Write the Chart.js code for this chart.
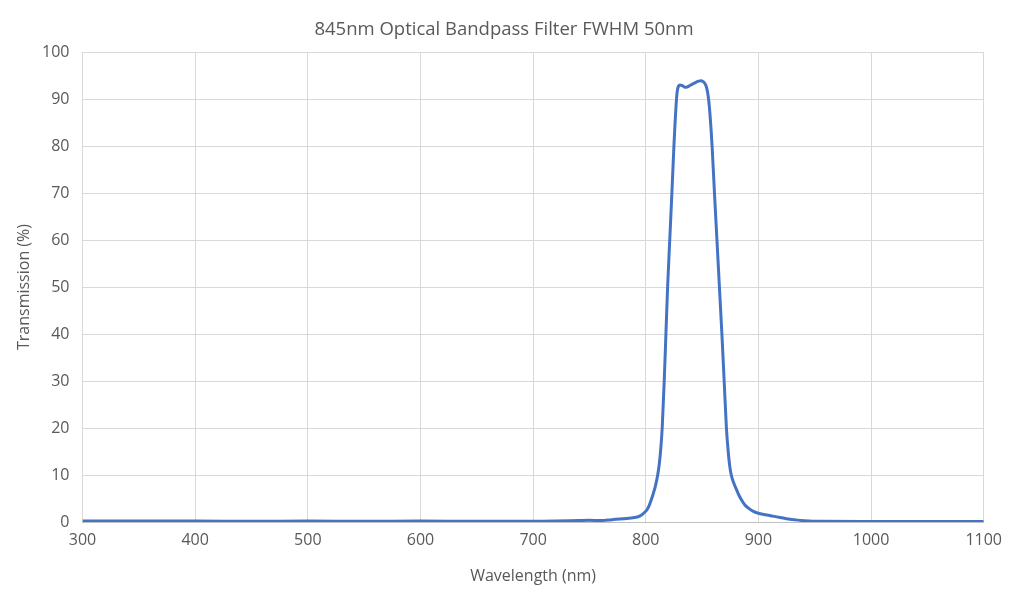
<!DOCTYPE html>
<html>
<head>
<meta charset="utf-8">
<title>845nm Optical Bandpass Filter</title>
<script src="https://cdn.jsdelivr.net/npm/chart.js@4"></script>
<style>
  html, body { margin: 0; padding: 0; background: #fff; }
  #wrap { width: 1011px; height: 590px; }
</style>
</head>
<body>
<div id="wrap"><canvas id="filterChart"></canvas></div>
<script>
const wavelengths = [300, 350, 400, 450, 500, 550, 600, 650, 700, 720, 740, 750, 760, 770, 780, 790, 795,
  798, 800.8, 803, 805, 806.5, 808.5, 810.6, 812, 813.3, 814.6, 816.4, 817.9, 819.4, 821.3, 823.2, 825, 827.3,
  828.2, 829.2, 830.3, 832, 834, 836, 838, 841, 844, 847, 849, 851, 852.5, 853.8, 855, 856, 857, 858,
  859, 861, 863.2, 865.4, 867.6, 869.6, 871.6, 873.2, 874.5, 875.9, 877.8, 880, 882.5, 885, 888, 892,
  896, 900, 905, 910, 918, 925, 935, 945, 955, 1000, 1050, 1100];
const transmission = [0.2, 0.2, 0.2, 0.15, 0.2, 0.15, 0.2, 0.15, 0.15, 0.2, 0.3, 0.35, 0.3, 0.5, 0.7, 0.95, 1.3,
  1.85, 2.5, 3.5, 4.8, 5.9, 7.6, 10, 12.3, 15.5, 20, 30, 40, 50, 60, 70, 80, 90,
  92, 92.8, 93.0, 92.9, 92.6, 92.5, 92.7, 93.1, 93.5, 93.8, 93.9, 93.7, 93.3, 92.6, 91.3, 89.5, 86.8, 83.5,
  79.5, 70, 60, 50, 40, 30, 20, 15, 12, 10, 8.5, 7.2, 5.8, 4.7, 3.6, 2.8,
  2.2, 1.85, 1.6, 1.4, 1.0, 0.7, 0.4, 0.2, 0.15, 0.1, 0.1, 0.1];
const xTicks = [300, 400, 500, 600, 700, 800, 900, 1000, 1100];
const yTicks = [0, 10, 20, 30, 40, 50, 60, 70, 80, 90, 100];

const points = wavelengths.map((w, i) => ({ x: w, y: transmission[i] }));
const textColor = "#595959";
const gridColor = "#d9d9d9";
const font = "'Open Sans', 'Liberation Sans', sans-serif";

new Chart(document.getElementById("filterChart"), {
  type: "line",
  data: {
    datasets: [{
      data: points,
      borderColor: "#4472c4",
      borderWidth: 3,
      pointRadius: 0,
      cubicInterpolationMode: "monotone",
      fill: false
    }]
  },
  options: {
    responsive: true,
    maintainAspectRatio: false,
    animation: false,
    layout: { padding: { left: 0, right: 3, top: 0, bottom: 0 } },
    plugins: {
      legend: { display: false },
      tooltip: { enabled: false },
      title: {
        display: true,
        text: "845nm Optical Bandpass Filter FWHM 50nm",
        color: textColor,
        font: { family: font, size: 18.5, weight: "normal" },
        padding: { top: 19, bottom: 10.8 }
      }
    },
    scales: {
      x: {
        type: "linear",
        min: 300,
        max: 1100,
        afterBuildTicks: s => { s.ticks = xTicks.map(v => ({ value: v })); },
        afterFit: s => { s.height = 68; },
        grid: { color: gridColor, drawTicks: false },
        border: { color: "#bfbfbf" },
        ticks: {
          color: textColor,
          font: { family: font, size: 16 },
          padding: 9,
          maxRotation: 0,
          callback: v => String(v)
        },
        title: {
          display: true,
          text: "Wavelength (nm)",
          color: textColor,
          font: { family: font, size: 16 },
          padding: { top: 12 }
        }
      },
      y: {
        min: 0,
        max: 100,
        afterBuildTicks: s => { s.ticks = yTicks.map(v => ({ value: v })); },
        afterFit: s => { s.width = 82.5; },
        grid: { color: gridColor, drawTicks: false },
        border: { display: false },
        ticks: { color: textColor, font: { family: font, size: 16 }, padding: 13 },
        title: {
          display: true,
          text: "Transmission (%)",
          color: textColor,
          font: { family: font, size: 16 },
          padding: { top: 15, bottom: 0 }
        }
      }
    }
  }
});
</script>
</body>
</html>
